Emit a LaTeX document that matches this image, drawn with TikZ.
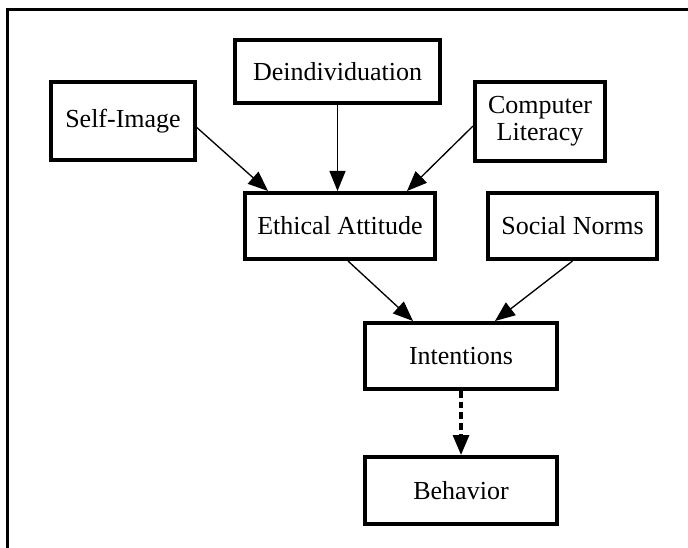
\documentclass[tikz,border=0pt]{standalone}
\usepackage{fontspec}
\setmainfont{Liberation Serif}
\usetikzlibrary{arrows.meta}
\begin{document}
\begin{tikzpicture}[x=0.75pt, y=-0.75pt,
    factor/.style={draw, line width=3pt, inner sep=0pt, align=center,
        font=\fontsize{19.5}{20.5}\selectfont},
    link/.style={line width=1pt, -{Triangle[length=15pt,width=12pt]}},
    weaklink/.style={link, line width=2.4pt, dash pattern=on 5pt off 3pt}]
    \useasboundingbox (0,0) rectangle (688,548);
    {
    % Drawing frame
    \draw [line width=2.6pt] (7.3,560) -- (7.3,9.7) -- (700,9.7);%

    % Drawing box Self-Image
    \node [factor, minimum width=108pt, minimum height=58.5pt] (selfimg) at (123,121) {Self-Image};%

    % Drawing box Deindividuation
    \node [factor, minimum width=153.75pt, minimum height=47.25pt] (deind) at (337.5,71.5) {Deindividuation};%

    % Drawing box Computer Literacy
    \node [factor, minimum width=97.5pt, minimum height=59.25pt] (complit) at (540,121.5) {Computer\\Literacy};%

    % Drawing box Ethical Attitude
    \node [factor, minimum width=142.5pt, minimum height=49.5pt] (ethic) at (340,226) {Ethical Attitude};%

    % Drawing box Social Norms
    \node [factor, minimum width=126.75pt, minimum height=49.5pt] (social) at (572.5,226) {Social Norms};%

    % Drawing box Intentions
    \node [factor, minimum width=144pt, minimum height=49.5pt] (intent) at (461,356) {Intentions};%

    % Drawing box Behavior
    \node [factor, minimum width=144pt, minimum height=50.25pt] (behav) at (461,490.5) {Behavior};%

    % Drawing links into Ethical Attitude
    \draw [link] ([yshift=-5pt]selfimg.east) -- ([xshift=18.75pt]ethic.north west);%
    \draw [link] (deind.south) -- (deind.south |- ethic.north);%
    \draw [link] ([yshift=-3.4pt]complit.west) -- ([xshift=-22.5pt]ethic.north east);%

    % Drawing links into Intentions
    \draw [link] ([xshift=6pt]ethic.south) -- ([xshift=37.5pt]intent.north west);%
    \draw [link] (social.south) -- ([xshift=-48pt]intent.north east);%

    % Drawing link Intentions Behavior
    \draw [weaklink] (intent.south) -- (behav.north);%
    }
\end{tikzpicture}
\end{document}
